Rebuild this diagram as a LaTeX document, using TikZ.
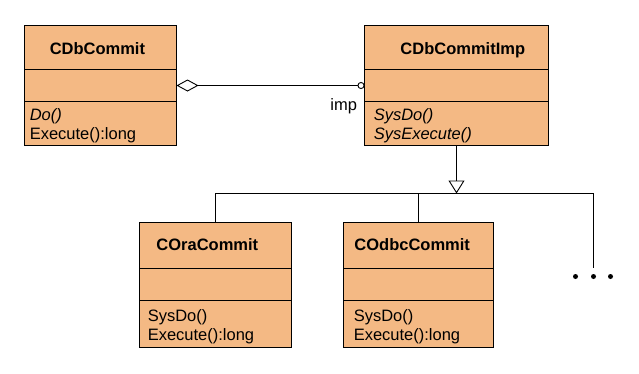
\documentclass[tikz,border=0pt]{standalone}
\usepackage{fontspec}
\setmainfont{Liberation Sans}
\usetikzlibrary{arrows.meta}
\usepackage{xcolor}
\definecolor{umlfill}{HTML}{F4B984}
\definecolor{umlline}{HTML}{000000}

\begin{document}
\begin{tikzpicture}[x=1pt, y=-1pt, line width=0.9pt,
    classbox/.style={draw=umlline, fill=umlfill, rectangle, inner sep=0pt, outer sep=0pt, anchor=north west},
    clsname/.style={font=\fontsize{16.5}{18.5}\selectfont\bfseries, inner sep=0pt, anchor=base west},
    clsops/.style={font=\fontsize{16.5}{18.5}\selectfont, inner sep=0pt, anchor=base west, align=left}]
        \useasboundingbox (0,0) rectangle (639,373);
        % class boxes: name / attributes / operations
        \foreach \nm/\x/\y/\w/\hn/\ho in {dbc/24.5/25.5/152/44/44, imp/364.5/25.5/184/44/44,
                                          ora/139.5/222.5/152/46/47, odbc/343.5/222.5/150/46/47} {
          \node[classbox, minimum width=\w, minimum height=\hn] (\nm-name) at (\x,\y) {};
          \node[classbox, minimum width=\w, minimum height=32] (\nm-attr) at (\nm-name.south west) {};
          \node[classbox, minimum width=\w, minimum height=\ho] (\nm-ops) at (\nm-attr.south west) {};
        }
        \node[clsname] (dbc-title) at (49.3,54.7) {CDbCommit};
        \node[clsname] (imp-title) at (400,54.7) {CDbCommitImp};
        \node[clsname] (ora-title) at (156,250.7) {COraCommit};
        \node[clsname] (odbc-title) at (354,250.7) {COdbcCommit};
        % base anchor sits on the last line
        \node[clsops] (dbc-meth) at (29.3,139.2) {\textit{Do()}\\Execute():long};
        \node[clsops] (imp-meth) at (373.3,139) {\textit{SysDo()}\\\textit{SysExecute()}};
        \node[clsops] (ora-meth) at (147.3,340) {SysDo()\\Execute():long};
        \node[clsops] (odbc-meth) at (353.3,340) {SysDo()\\Execute():long};
        % aggregation
        \draw[{Diamond[open,length=22pt,width=12pt]}-{Circle[open,length=7pt]}] (dbc-attr.east) -- (imp-attr.west);
        \node[font=\fontsize{16.5}{18.5}\selectfont, inner sep=0pt, anchor=base west] (implbl) at (330,110) {imp};
        % generalization
        \coordinate (bus) at (456.5,193.5);
        \coordinate (more) at (593.5,267.5);
        \draw[-{Triangle[open,length=13pt,width=16pt]}] (imp-ops.south) -- (bus);
        \draw (ora-name.north) |- (bus) -| (more);
        \draw (odbc-name.north) -- (odbc-name.north |- bus);
        \foreach \x in {575.5, 593.5, 610.5}
          \fill (\x,276.5) circle (2.5);
      \end{tikzpicture}
\end{document}
